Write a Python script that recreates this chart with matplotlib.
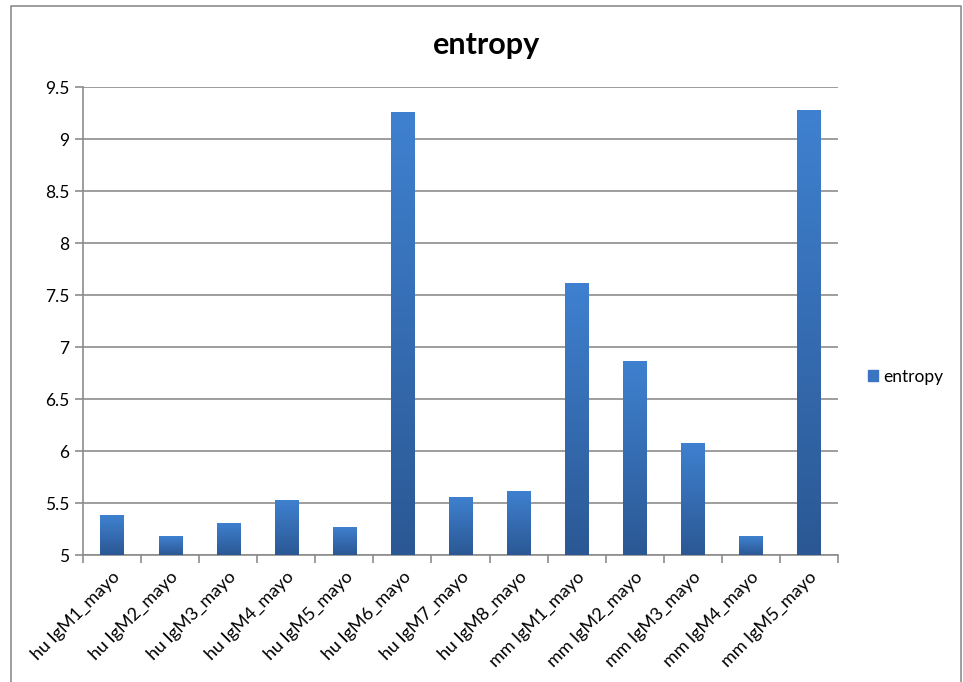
import matplotlib.pyplot as plt
import matplotlib.patches as mpatches
from matplotlib.colors import LinearSegmentedColormap
import numpy as np

plt.rcParams['font.family'] = ['Lato', 'DejaVu Sans']

samples = ["hu IgM1_mayo", "hu IgM2_mayo", "hu IgM3_mayo", "hu IgM4_mayo",
           "hu IgM5_mayo", "hu IgM6_mayo", "hu IgM7_mayo", "hu IgM8_mayo",
           "mm IgM1_mayo", "mm IgM2_mayo", "mm IgM3_mayo", "mm IgM4_mayo",
           "mm IgM5_mayo"]
entropy = [5.38, 5.18, 5.31, 5.53, 5.27, 9.26, 5.56, 5.62,
           7.62, 6.87, 6.08, 5.18, 9.28]
y_ticks = [5, 5.5, 6, 6.5, 7, 7.5, 8, 8.5, 9, 9.5]
base = 5

grad = LinearSegmentedColormap.from_list("bar", ["#2b5894", "#3f81d0"])

fig = plt.figure(figsize=(9.63, 6.82), dpi=100)
ax = fig.add_axes([83 / 963, 1 - 555 / 682, 755 / 963, 468 / 682])

x = np.arange(len(samples))
bars = ax.bar(x, np.array(entropy) - base, bottom=base, width=0.4,
              color="none", edgecolor="none", zorder=3)

# vertical gradient fill, clipped to each bar
g = np.linspace(0, 1, 256).reshape(-1, 1)
for b in bars:
    x0, y0 = b.get_x(), b.get_y()
    im = ax.imshow(g, cmap=grad, aspect="auto", origin="lower",
                   extent=(x0, x0 + b.get_width(), y0, y0 + b.get_height()),
                   zorder=3)
    im.set_clip_path(b)

ax.set_xlim(-0.5, len(samples) - 0.5)
ax.set_ylim(5, 9.5)
ax.set_yticks(y_ticks)
ax.set_yticklabels([f"{v:g}" for v in y_ticks], fontsize=12.5)
ax.yaxis.grid(True, color="#8c8c8c", linewidth=1.2)
ax.set_axisbelow(True)

ax.set_xticks(x)
ax.set_xticklabels(samples, rotation=45, ha="right", rotation_mode="anchor",
                   fontsize=13)
ax.set_xticks(np.arange(len(samples) + 1) - 0.5, minor=True)
ax.tick_params(axis="x", which="major", length=0, pad=10)
ax.tick_params(axis="x", which="minor", length=6, color="#8c8c8c", width=1.2)
ax.tick_params(axis="y", length=6, color="#8c8c8c", width=1.2, pad=4)

for side in ["top", "right"]:
    ax.spines[side].set_visible(False)
for side in ["left", "bottom"]:
    ax.spines[side].set_color("#8c8c8c")
    ax.spines[side].set_linewidth(1.2)

fig.text(487 / 963, 1 - 45 / 682, "entropy", ha="center", va="center",
         fontsize=22, fontweight="bold")

handle = mpatches.Patch(color="#3a74c2", label="entropy")
fig.legend(handles=[handle], loc="center left",
           bbox_to_anchor=(852 / 963, 1 - 377 / 682), frameon=False,
           fontsize=12.5, handlelength=0.6, handleheight=0.6,
           handletextpad=0.3)

# chart area border
fig.add_artist(plt.Line2D([11 / 963, 11 / 963, 961 / 963, 961 / 963],
                          [0, 1 - 6 / 682, 1 - 6 / 682, 0],
                          transform=fig.transFigure, color="#8c8c8c",
                          linewidth=1.2))

fig.savefig("out.png", dpi=100)
